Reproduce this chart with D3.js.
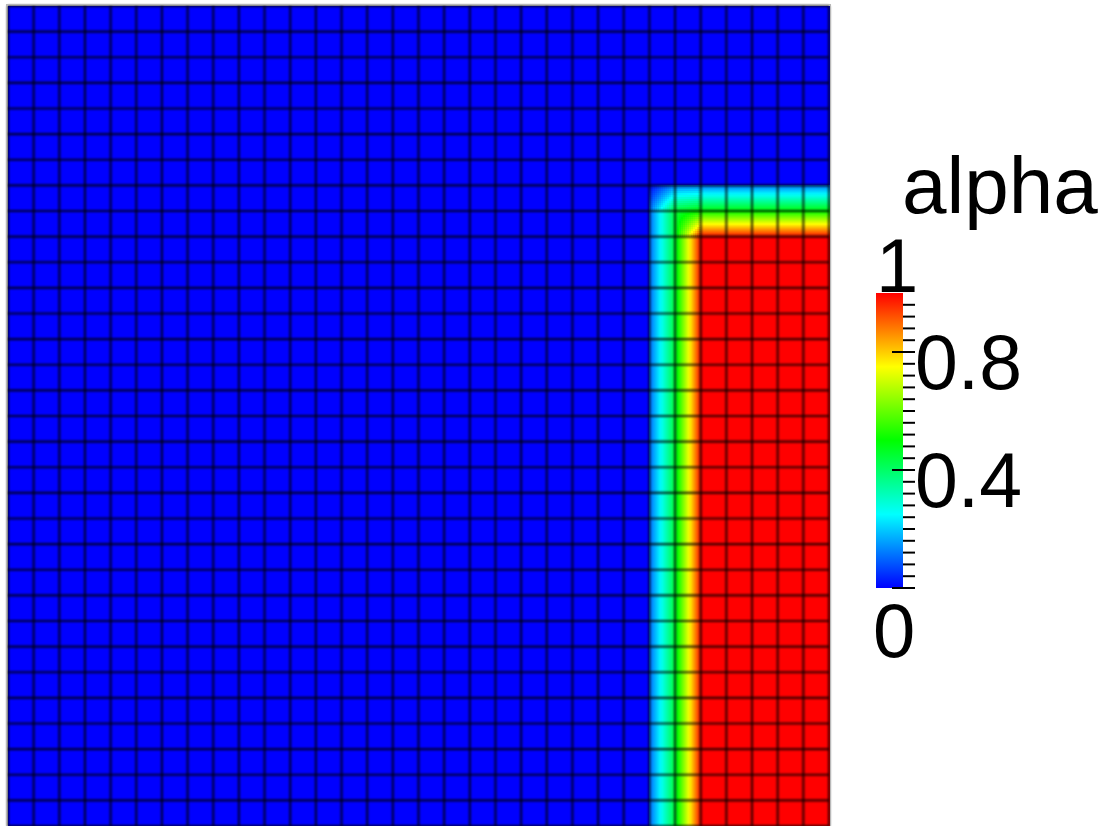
<!DOCTYPE html>
<html>
<head>
<meta charset="utf-8">
<script src="https://cdn.jsdelivr.net/npm/d3@7"></script>
<style>
  body { margin: 0; background: #fff; }
  text { font-family: "Liberation Sans", Arial, sans-serif; fill: #000; }
</style>
</head>
<body>
<div id="chart"></div>
<script>
const width = 1112;
const height = 826;

// alpha at the left / right edge of each of the 32 columns
const colLeft = [0, 0, 0, 0, 0, 0, 0, 0, 0, 0, 0, 0, 0, 0, 0, 0,
  0, 0, 0, 0, 0, 0, 0, 0, 0, 0.1, 0.45, 1, 1, 1, 1, 1];
const colRight = [0, 0, 0, 0, 0, 0, 0, 0, 0, 0, 0, 0, 0, 0, 0, 0,
  0, 0, 0, 0, 0, 0, 0, 0, 0, 0.45, 1, 1, 1, 1, 1, 1];
// alpha at the top / bottom edge of each of the 32 rows
const rowTop = [0, 0, 0, 0, 0, 0, 0, 0.12, 0.5, 1, 1, 1, 1, 1, 1, 1,
  1, 1, 1, 1, 1, 1, 1, 1, 1, 1, 1, 1, 1, 1, 1, 1];
const rowBottom = [0, 0, 0, 0, 0, 0, 0, 0.5, 1, 1, 1, 1, 1, 1, 1, 1,
  1, 1, 1, 1, 1, 1, 1, 1, 1, 1, 1, 1, 1, 1, 1, 1];
// the rounded outer corner of the interface: [column, row, alpha at top-left node]
const cornerNodes = [[25, 7, 0]];

const majorTicks = [0, 0.4, 0.8];
const tickLabels = ["0.8", "0.4"];
const endLabels = ["0", "1"];
const fieldName = "alpha";

const nCols = colLeft.length;
const nRows = rowTop.length;

const svg = d3
  .select("#chart")
  .append("svg")
  .attr("width", width)
  .attr("height", height);

svg.append("rect").attr("width", width).attr("height", height).attr("fill", "#fff");

const x = d3.scaleLinear().domain([0, nCols]).range([8, 829]);
const y = d3.scaleLinear().domain([0, nRows]).range([6, 826]);

// blue -> cyan -> green -> yellow -> red
const hue = d3.scaleLinear().domain([0, 1]).range([240, 0]).clamp(true);
const color = (v) => d3.hsl(hue(v), 1, 0.5).formatHex();

const defs = svg.append("defs");
defs
  .append("filter")
  .attr("id", "soft")
  .attr("x", "-5%").attr("y", "-5%").attr("width", "110%").attr("height", "110%")
  .append("feGaussianBlur")
  .attr("stdDeviation", 0.85);

const grads = {};
const gradient = (v0, v1, vertical) => {
  const id = `g${vertical ? "v" : "h"}_${v0}_${v1}`.replace(/\./g, "p");
  if (!grads[id]) {
    const lg = defs
      .append("linearGradient")
      .attr("id", id)
      .attr("x1", 0).attr("y1", 0)
      .attr("x2", vertical ? 0 : 1)
      .attr("y2", vertical ? 1 : 0);
    lg.selectAll("stop")
      .data(d3.range(11))
      .join("stop")
      .attr("offset", (d) => d / 10)
      .attr("stop-color", (d) => color(v0 + ((v1 - v0) * d) / 10));
    grads[id] = true;
  }
  return `url(#${id})`;
};

const cells = [];
for (let j = 0; j < nRows; j++) {
  for (let i = 0; i < nCols; i++) {
    let a = Math.min(colLeft[i], rowTop[j]);
    const b = Math.min(colRight[i], rowTop[j]);
    const c = Math.min(colLeft[i], rowBottom[j]);
    const d = Math.min(colRight[i], rowBottom[j]);
    const over = cornerNodes.find((k) => k[0] === i && k[1] === j);
    if (over) a = over[2];
    cells.push({ i, j, a, b, c, d });
  }
}

const field = svg.append("g").attr("shape-rendering", "crispEdges");

cells.forEach((cell) => {
  const { i, j, a, b, c, d } = cell;
  const x0 = x(i), x1 = x(i + 1), y0 = y(j), y1 = y(j + 1);
  let fill = null;
  if (a === b && a === c && a === d) fill = color(a);
  else if (a === c && b === d) fill = gradient(a, b, false);
  else if (a === b && c === d) fill = gradient(a, c, true);

  if (fill) {
    field.append("rect")
      .attr("x", x0).attr("y", y0)
      .attr("width", x1 - x0 + 0.6).attr("height", y1 - y0 + 0.6)
      .attr("fill", fill);
  } else {
    const n = 13;
    const sub = [];
    for (let q = 0; q < n; q++) {
      for (let p = 0; p < n; p++) {
        const s = (p + 0.5) / n, t = (q + 0.5) / n;
        const v = a * (1 - s) * (1 - t) + b * s * (1 - t) + c * (1 - s) * t + d * s * t;
        sub.push({ p, q, v });
      }
    }
    const sw = (x1 - x0) / n, sh = (y1 - y0) / n;
    field.append("g")
      .selectAll("rect")
      .data(sub)
      .join("rect")
      .attr("x", (e) => x0 + e.p * sw)
      .attr("y", (e) => y0 + e.q * sh)
      .attr("width", sw + 0.6)
      .attr("height", sh + 0.6)
      .attr("fill", (e) => color(e.v));
  }
});

// mesh lines
const mesh = svg.append("g")
  .attr("filter", "url(#soft)")
  .attr("stroke", "#000")
  .attr("stroke-opacity", 0.78)
  .attr("stroke-width", 2.1);
mesh.selectAll("line.v")
  .data(d3.range(nCols + 1))
  .join("line")
  .attr("class", "v")
  .attr("x1", (d) => x(d)).attr("x2", (d) => x(d))
  .attr("y1", y(0)).attr("y2", y(nRows));
mesh.selectAll("line.h")
  .data(d3.range(nRows + 1))
  .join("line")
  .attr("class", "h")
  .attr("y1", (d) => y(d)).attr("y2", (d) => y(d))
  .attr("x1", x(0)).attr("x2", x(nCols));

svg.append("rect")
  .attr("x", x(0) - 1.5).attr("y", y(0) - 1.5)
  .attr("width", x(nCols) - x(0) + 3).attr("height", y(nRows) - y(0) + 3)
  .attr("fill", "none").attr("stroke", "#b8b8b8").attr("stroke-width", 1);

// colour bar
const bar = svg.append("g");
const cb = d3.scaleLinear().domain([0, 1]).range([588, 293]);
const barGrad = defs.append("linearGradient")
  .attr("id", "barGrad")
  .attr("x1", 0).attr("y1", 1).attr("x2", 0).attr("y2", 0);
barGrad.selectAll("stop")
  .data(d3.range(21))
  .join("stop")
  .attr("offset", (d) => d / 20)
  .attr("stop-color", (d) => color(d / 20));

bar.append("rect")
  .attr("x", 876).attr("y", cb(1))
  .attr("width", 27).attr("height", cb(0) - cb(1))
  .attr("fill", "url(#barGrad)");

const minorTicks = d3.range(1, 25).map((k) => +(k * 0.04).toFixed(2)).filter((v) => !majorTicks.includes(v));

bar.selectAll("line.minor")
  .data(minorTicks)
  .join("line")
  .attr("class", "minor")
  .attr("x1", 903).attr("x2", 915)
  .attr("y1", (d) => cb(d)).attr("y2", (d) => cb(d))
  .attr("stroke", "#000").attr("stroke-width", 2);

bar.selectAll("line.major")
  .data(majorTicks)
  .join("line")
  .attr("class", "major")
  .attr("x1", 892).attr("x2", 915)
  .attr("y1", (d) => cb(d)).attr("y2", (d) => cb(d))
  .attr("stroke", "#000").attr("stroke-width", 2);

bar.selectAll("text.tick")
  .data(tickLabels)
  .join("text")
  .attr("class", "tick")
  .attr("x", 915)
  .attr("y", (d) => cb(+d) + 37)
  .attr("font-size", 77)
  .text((d) => d);

bar.append("text").attr("x", 876).attr("y", 292).attr("font-size", 76).text(endLabels[1]);
bar.append("text").attr("x", 873).attr("y", 657).attr("font-size", 76).text(endLabels[0]);

svg.append("text")
  .attr("x", 902)
  .attr("y", 213)
  .attr("font-size", 80)
  .text(fieldName);
</script>
</body>
</html>
